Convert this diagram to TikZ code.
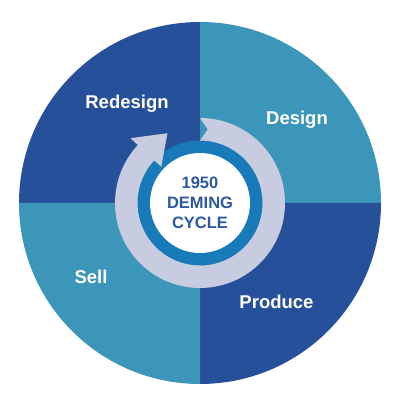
\documentclass[tikz,border=0pt]{standalone}
\usepackage{fontspec}
\setmainfont{Liberation Sans}
\usetikzlibrary{calc}
\definecolor{darkq}{RGB}{39,80,155}
\definecolor{tealq}{RGB}{60,150,185}
\definecolor{ringblue}{RGB}{24,122,185}
\definecolor{lav}{RGB}{200,204,224}
\definecolor{ctext}{RGB}{45,88,162}
\tikzset{
  qlabel/.style={text=white, font=\fontsize{18.5}{22}\selectfont\bfseries, inner sep=0pt},
  clabel/.style={text=ctext, font=\fontsize{16.5}{20}\selectfont\bfseries, align=center, inner sep=0pt}
}
\begin{document}
\begin{tikzpicture}[x=1pt,y=1pt]
\useasboundingbox (0,0) rectangle (400,406);
\coordinate (c) at (200,203);
% quadrants
\fill[darkq] (c) -- ($(c)+(90:181)$) arc[start angle=90, end angle=180, radius=181] -- cycle;
\fill[tealq] (c) -- ($(c)+(0:181)$) arc[start angle=0, end angle=90, radius=181] -- cycle;
\fill[darkq] (c) -- ($(c)+(270:181)$) arc[start angle=270, end angle=360, radius=181] -- cycle;
\fill[tealq] (c) -- ($(c)+(180:181)$) arc[start angle=180, end angle=270, radius=181] -- cycle;
% inner rings
\fill[ringblue] (c) circle[radius=62.5];
\fill[white] (c) circle[radius=50];
% lavender cycle arrow
\fill[lav] ($(c)+(90:85)$) arc[start angle=90, end angle=-223, radius=85]
  -- ($(c)+(137:95)$) -- ($(c)+(115:77)$) -- ($(c)+(137:53)$)
  -- ($(c)+(137:62.5)$) arc[start angle=-223, end angle=90, radius=62.5]
  -- ($(c)+(84:74)$) -- cycle;
% labels
\node[qlabel] (redesign) at (127,302) {Redesign};
\node[qlabel] (design) at (297,286) {Design};
\node[qlabel] (sell) at (91,129) {Sell};
\node[qlabel] (produce) at (276.5,104) {Produce};
\node[clabel] (center) at (c) {1950\\DEMING\\CYCLE};
\end{tikzpicture}
\end{document}
